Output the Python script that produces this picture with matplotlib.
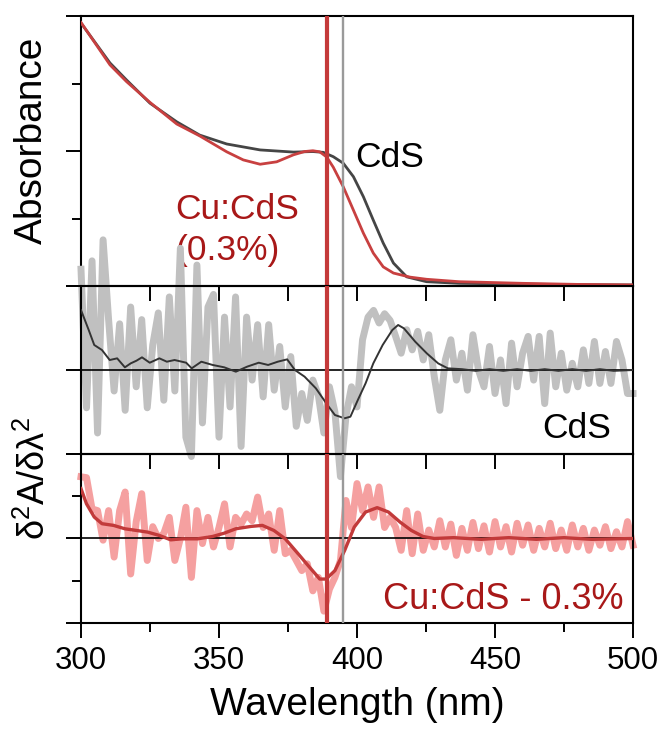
import matplotlib
matplotlib.use("Agg")
import matplotlib.pyplot as plt
import numpy as np
from matplotlib.ticker import MultipleLocator, FixedLocator, NullFormatter

plt.rcParams['font.family'] = ['Liberation Sans', 'DejaVu Sans']
plt.rcParams['mathtext.fontset'] = 'custom'
plt.rcParams['mathtext.rm'] = 'Liberation Sans'
plt.rcParams['mathtext.it'] = 'Liberation Sans:italic'

# --- absorbance spectra ---
abs_wl_cds = [300, 310.5, 316.5, 325, 334.7, 343, 352.8, 364.9, 377, 384, 387.8, 391.4, 395,
              398.7, 402.3, 405.9, 409.5, 413.2, 418, 425.2, 437, 445, 460, 480, 500]
abs_cds = [0.974, 0.826, 0.763, 0.677, 0.608, 0.559, 0.526, 0.504, 0.496, 0.498, 0.495, 0.479, 0.455,
           0.405, 0.331, 0.244, 0.159, 0.085, 0.034, 0.016, 0.010, 0.009, 0.007, 0.005, 0.004]

abs_wl_cu = [300, 310.5, 316.5, 325, 334.7, 343, 352.8, 358.8, 364.9, 370.9, 377, 381, 384,
             386.5, 389, 391.4, 395, 398.7, 402.3, 405.9, 409.5, 413.2, 419.2, 425.2, 437, 445,
             460, 480, 500]
abs_cu = [0.976, 0.819, 0.757, 0.680, 0.600, 0.556, 0.497, 0.467, 0.451, 0.460, 0.486, 0.498, 0.501,
          0.497, 0.478, 0.440, 0.368, 0.281, 0.196, 0.122, 0.071, 0.048, 0.033, 0.025, 0.016, 0.014,
          0.010, 0.006, 0.004]

# --- second derivative, raw (2 nm steps) ---
d2_wl = np.arange(300, 501, 2)
d2_cds_raw = [1.2, -0.45, 1.3, -0.75, 1.55, 0.6, -0.25, 0.55, -0.48, 0.75,
              -0.2, 0.6, -0.45, 0.3, 0.68, -0.36, 0.87, -0.25, 1.45, -0.8,
              -1.03, 1.25, -0.63, 0.75, 0.9, -0.8, 0.63, -0.44, 0.87, -0.91,
              0.63, -0.12, 0.54, -0.32, 0.54, -0.24, 0.28, -0.44, 0.16, -0.67,
              -0.28, -0.6, -0.12, -0.3, -0.75, -0.2, -0.5, -1.27, -0.55, -0.2,
              -0.44, 0.36, 0.63, 0.71, 0.56, 0.67, 0.59, 0.4, 0.2, 0.48,
              0.24, 0.46, 0.12, 0.42, -0.08, -0.48, 0.12, 0.36, -0.12, 0.2,
              -0.24, 0.42, 0.0, -0.2, 0.28, -0.28, 0.12, -0.4, 0.32, -0.2,
              0.2, 0.4, -0.12, 0.4, -0.4, 0.44, -0.2, 0.2, -0.24, 0.08,
              -0.2, 0.24, -0.16, 0.34, -0.16, 0.22, -0.16, 0.34, 0.12, -0.28,
              -0.28]
d2_cu_raw = [0.73, 0.72, 0.35, 0.33, -0.02, 0.33, -0.22, 0.33, 0.55, -0.42,
             0.2, 0.53, -0.26, 0.14, 0.0, 0.06, 0.25, -0.26, 0.0, 0.37,
             -0.46, 0.33, -0.06, 0.25, -0.1, 0.13, 0.41, -0.1, 0.25, 0.17,
             0.29, 0.21, 0.49, 0.13, 0.29, -0.14, 0.33, -0.18, -0.14, -0.26,
             -0.38, -0.3, -0.62, -0.46, -0.86, -0.6, -0.46, -0.26, 0.45, 0.13,
             0.65, 0.33, 0.61, 0.25, 0.61, 0.13, 0.25, 0.13, -0.14, 0.33,
             -0.18, 0.29, -0.14, 0.1, -0.1, 0.21, -0.1, 0.17, -0.2, 0.12,
             -0.14, 0.19, -0.12, 0.15, -0.16, 0.2, -0.1, 0.14, -0.16, 0.18,
             -0.08, 0.16, -0.14, 0.12, -0.1, 0.18, -0.12, 0.1, -0.14, 0.16,
             -0.1, 0.12, -0.14, 0.1, -0.08, 0.14, -0.12, 0.08, -0.1, 0.2,
             -0.08]

# --- second derivative, smoothed ---
sm_wl_cds = [300, 302.8, 304.8, 307.6, 310.4, 313.1, 315.9, 318, 320.1, 322.1, 324.9, 328.4,
             331.1, 333.9, 338.1, 340.1, 343.6, 347.7, 351.9, 356.1, 360.2, 364.4, 367.8, 371.3,
             374.7, 377.5, 381, 385.1, 389.3, 392, 395.5, 397.6, 400.3, 403.1, 405.9, 409.3,
             412.8, 414.9, 417, 421.1, 425.3, 429.4, 432.9, 438, 443, 448, 453, 458, 463,
             468, 473, 478, 483, 488, 493, 500]
sm_cds = [0.714, 0.476, 0.298, 0.238, 0.119, 0.139, 0.032, 0.079, 0.111, 0.151, 0.087, 0.139,
          0.099, 0.119, 0.087, 0.02, 0.099, 0.06, 0.032, -0.02, 0.04, 0.087, 0.06, 0.099,
          0.127, 0.0, -0.079, -0.218, -0.417, -0.536, -0.575, -0.556, -0.357, -0.159, 0.079, 0.298,
          0.476, 0.536, 0.496, 0.337, 0.198, 0.079, 0.02, 0.01, -0.01, 0.01, -0.01, 0.01, -0.01,
          0.01, -0.01, 0.01, -0.01, 0.01, -0.01, 0.0]

sm_wl_cu = [300, 302, 304.8, 307.6, 311.8, 315.9, 320.1, 324.2, 328.4, 332.5, 336.7, 342.2,
            347.7, 351.9, 356.1, 361.6, 365.7, 369.9, 374, 378.2, 382.3, 386.5, 388.8, 392,
            395.5, 399, 403.1, 407.3, 411.4, 415.6, 419.7, 423.9, 428, 435, 445, 455, 465,
            475, 485, 500]
sm_cu = [0.59, 0.41, 0.254, 0.175, 0.155, 0.115, 0.095, 0.075, 0.036, -0.016, -0.004, -0.004,
         0.024, 0.063, 0.115, 0.143, 0.155, 0.095, -0.004, -0.163, -0.321, -0.48, -0.48, -0.38,
         -0.143, 0.135, 0.313, 0.365, 0.313, 0.194, 0.095, 0.024, 0.0, 0.01, -0.01, 0.01, -0.01,
         0.01, -0.01, 0.0]

peak_cu = 389
peak_cds = 395

fig = plt.figure(figsize=(6.65, 7.37), dpi=100)
left, width = 0.1218, 0.8301
ax1 = fig.add_axes([left, 0.6119, width, 0.3664], facecolor='none')
ax2 = fig.add_axes([left, 0.3840, width, 0.2279], facecolor='none')
ax3 = fig.add_axes([left, 0.1547, width, 0.2293], facecolor='none')

ax1.plot(abs_wl_cds, abs_cds, color='#454545', lw=2.0, zorder=3)
ax1.plot(abs_wl_cu, abs_cu, color='#c84040', lw=2.0, zorder=3)
ax1.set_ylim(0, 1)
ax1.yaxis.set_major_locator(FixedLocator([0, 0.5, 1]))
ax1.yaxis.set_minor_locator(FixedLocator([0.25, 0.75]))
ax1.text(399.5, 0.44, 'CdS', fontsize=25.5, color='black', va='baseline', ha='left')
ax1.text(334, 0.248, 'Cu:CdS', fontsize=25.5, color='#a81818', va='baseline', ha='left')
ax1.text(334.5, 0.096, '(0.3%)', fontsize=25.5, color='#a81818', va='baseline', ha='left')

ax2.plot(d2_wl, d2_cds_raw, color='#c0c0c0', lw=5.0, zorder=1, clip_on=False)
ax2.axhline(0, color='black', lw=1.2, zorder=2)
ax2.plot(sm_wl_cds, sm_cds, color='#333333', lw=1.4, zorder=3)
ax2.set_ylim(-1, 1)
ax2.yaxis.set_major_locator(FixedLocator([-1, 0, 1]))
ax2.text(467, -0.81, 'CdS', fontsize=25.5, color='black', va='baseline', ha='left')

ax3.plot(d2_wl, d2_cu_raw, color='#f5a0a0', lw=5.0, zorder=1, clip_on=False)
ax3.axhline(0, color='black', lw=1.2, zorder=2)
ax3.plot(sm_wl_cu, sm_cu, color='#c23a3a', lw=2.4, zorder=3)
ax3.set_ylim(-1, 1)
ax3.yaxis.set_major_locator(FixedLocator([-1, 0, 1]))
ax3.yaxis.set_minor_locator(FixedLocator([-0.5, 0.5]))
ax3.text(496.5, -0.83, 'Cu:CdS - 0.3%', fontsize=26, color='#a81818', va='baseline', ha='right')

for ax in (ax1, ax2, ax3):
    ax.set_xlim(300, 500)
    ax.axvline(peak_cu, color='#c43a3a', lw=3.0, zorder=5)
    ax.axvline(peak_cds, color='#9a9a9a', lw=1.7, zorder=5)
    for sp in ax.spines.values():
        sp.set_linewidth(1.5)
    ax.tick_params(axis='y', which='major', direction='out', length=10.5, width=1.4, labelleft=False)
    ax.tick_params(axis='y', which='minor', direction='out', length=6.5, width=1.4)
    ax.yaxis.set_major_formatter(NullFormatter())

# upper panels: equal ticks every 25 nm, no labels
for ax in (ax1, ax2):
    ax.xaxis.set_major_locator(MultipleLocator(25))
    ax.tick_params(axis='x', which='major', direction='out', length=11, width=1.4, labelbottom=False)

ax3.xaxis.set_major_locator(MultipleLocator(50))
ax3.xaxis.set_minor_locator(MultipleLocator(25))
ax3.tick_params(axis='x', which='major', direction='out', length=10.5, width=1.4,
                labelsize=22.5, pad=6)
ax3.tick_params(axis='x', which='minor', direction='out', length=6.5, width=1.4)
ax3.set_xlabel('Wavelength (nm)', fontsize=28, labelpad=8)

fig.text(0.048, 0.81, 'Absorbance', rotation=90, fontsize=28, ha='center', va='center')
fig.text(0.052, 0.351, r'$\mathregular{\delta^2A/\delta\lambda^2}$', rotation=90, fontsize=26,
         ha='center', va='center')

plt.savefig('out.png', dpi=100)
